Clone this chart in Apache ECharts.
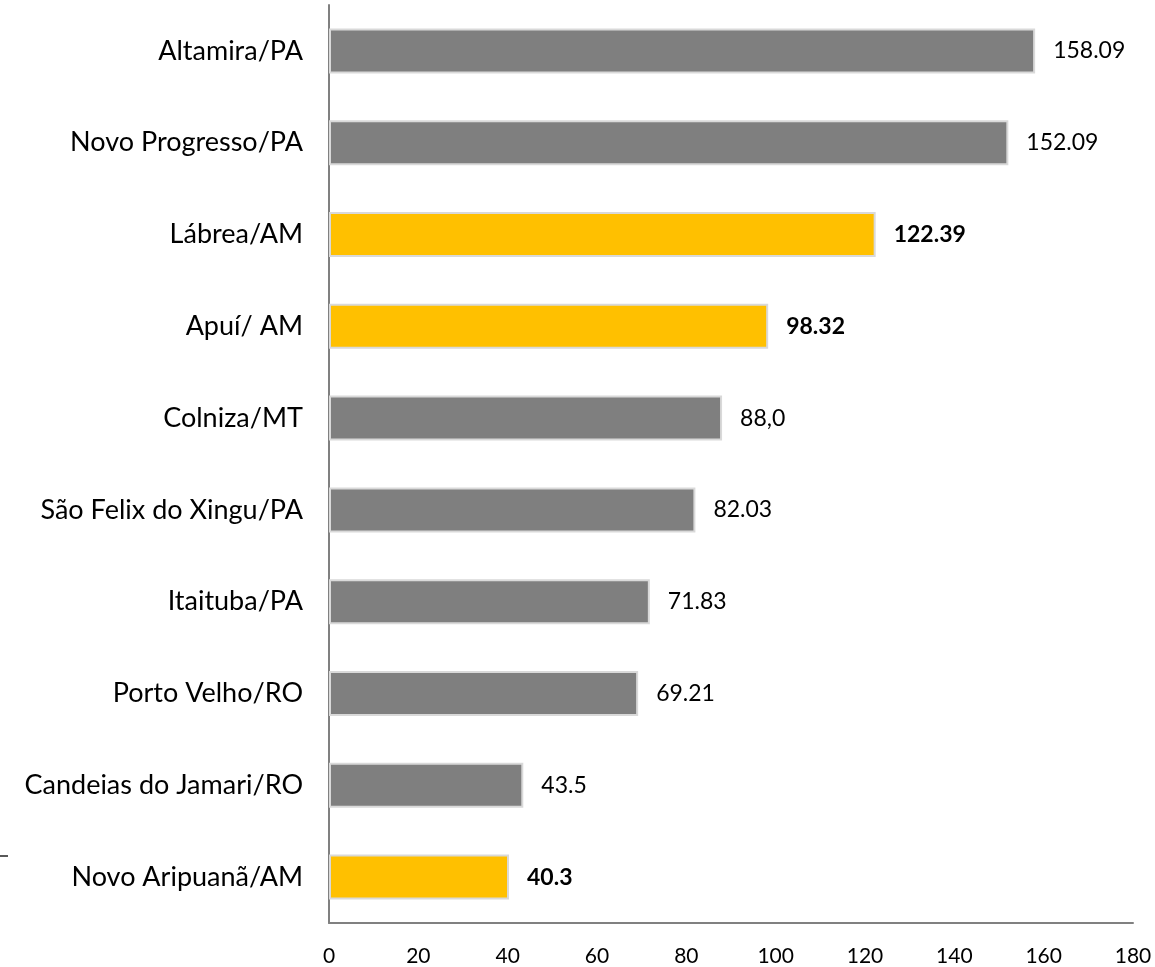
<!DOCTYPE html>
<html>
<head>
<meta charset="utf-8">
<script src="https://cdn.jsdelivr.net/npm/echarts@6/dist/echarts.min.js"></script>
<style>
html,body{margin:0;padding:0;background:#fff;}
#chart{width:1155px;height:967px;}
</style>
</head>
<body>
<div id="chart"></div>
<script>
const categories = ["Altamira/PA", "Novo Progresso/PA", "Lábrea/AM", "Apuí/ AM", "Colniza/MT", "São Felix do Xingu/PA", "Itaituba/PA", "Porto Velho/RO", "Candeias do Jamari/RO", "Novo Aripuanã/AM"];
const values = [158.09, 152.09, 122.39, 98.32, 88.0, 82.03, 71.83, 69.21, 43.5, 40.3];
const valueLabels = ["158.09", "152.09", "122.39", "98.32", "88,0", "82.03", "71.83", "69.21", "43.5", "40.3"];
const highlighted = [false, false, true, true, false, false, false, false, false, true];
const xTicks = [0, 20, 40, 60, 80, 100, 120, 140, 160, 180];

const FONT = 'Lato';
const data = values.map((v, i) => ({
  value: v,
  itemStyle: { color: highlighted[i] ? '#FFC000' : '#7F7F7F' },
  label: { fontWeight: highlighted[i] ? 'bold' : 'normal' }
}));

const chart = echarts.init(document.getElementById('chart'));
chart.setOption({
  animation: false,
  grid: { left: 329, right: 22, top: 5, bottom: 44, containLabel: false },
  xAxis: {
    type: 'value', min: xTicks[0], max: xTicks[xTicks.length - 1], interval: 20,
    axisLine: { show: true, lineStyle: { color: '#808080', width: 2 } },
    axisTick: { show: false },
    splitLine: { show: false },
    axisLabel: { color: '#000', fontFamily: FONT, fontSize: 21, margin: 23 }
  },
  yAxis: {
    type: 'category', data: categories, inverse: true,
    axisLine: { show: true, lineStyle: { color: '#808080', width: 2 } },
    axisTick: { show: false },
    axisLabel: { color: '#000', fontFamily: FONT, fontSize: 27, margin: 26 }
  },
  series: [{
    type: 'bar',
    data: data,
    barCategoryGap: '51%',
    itemStyle: { borderColor: '#D9D9D9', borderWidth: 2 },
    label: {
      show: true, position: 'right', distance: 18,
      color: '#000', fontFamily: FONT, fontSize: 23,
      formatter: p => valueLabels[p.dataIndex]
    }
  }],
  graphic: [{
    type: 'line', shape: { x1: 0, y1: 856, x2: 8, y2: 856 },
    style: { stroke: '#595959', lineWidth: 2 }
  }]
});
</script>
</body>
</html>
